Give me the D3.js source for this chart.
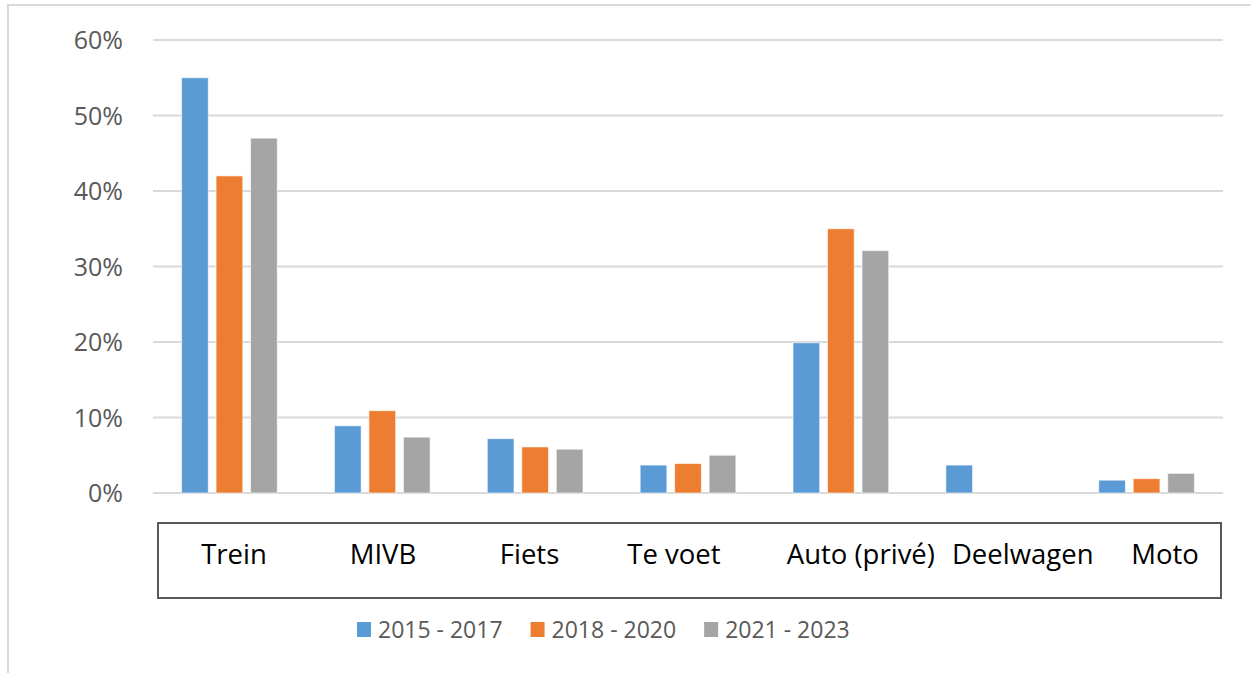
<!DOCTYPE html>
<html>
<head>
<meta charset="utf-8">
<script src="https://cdn.jsdelivr.net/npm/d3@7"></script>
<style>
  html, body { margin: 0; padding: 0; background: #fff; }
  svg { display: block; }
</style>
</head>
<body>
<svg id="chart" width="1251" height="673"></svg>
<script>
// ---- data ----
const categories = ["Trein", "MIVB", "Fiets", "Te voet", "Auto (privé)", "Deelwagen", "Moto"];
const seriesNames = ["2015 - 2017", "2018 - 2020", "2021 - 2023"];
const s2015 = [0.55, 0.089, 0.072, 0.037, 0.199, 0.037, 0.017];
const s2018 = [0.42, 0.109, 0.061, 0.039, 0.35, 0, 0.019];
const s2021 = [0.47, 0.074, 0.058, 0.050, 0.321, 0, 0.026];
const yTicks = [0, 0.1, 0.2, 0.3, 0.4, 0.5, 0.6];

// ---- layout (not data) ----
const colors = ["#5B9BD5", "#ED7D31", "#A5A5A5"];
const labelNudge = [4.6, 0.7, -5.6, -14, 20, 29, 18.4]; // label offsets in the category box
const plot = { left: 153, right: 1223, top: 40, bottom: 493 };

const svg = d3.select("#chart");
const seriesValues = [s2015, s2018, s2021];

// outer frame
svg.append("path")
  .attr("d", "M8,673 V5 H1251")
  .attr("fill", "none").attr("stroke", "#D9D9D9").attr("stroke-width", 2);

const y = d3.scaleLinear().domain([0, 0.6]).range([plot.bottom, plot.top]);
const x0 = d3.scaleBand().domain(categories).range([plot.left, plot.right])
  .paddingInner(0.323).paddingOuter(0.1615);
const x1 = d3.scaleBand().domain(seriesNames).range([0, x0.bandwidth()])
  .paddingInner(0.226).paddingOuter(0.113);

// gridlines
svg.append("g").selectAll("line").data(yTicks).join("line")
  .attr("x1", plot.left).attr("x2", plot.right)
  .attr("y1", d => y(d)).attr("y2", d => y(d))
  .attr("stroke", "#D9D9D9").attr("stroke-width", 2);

// y axis labels
const yAxis = d3.axisLeft(y).tickValues(yTicks).tickFormat(d3.format(".0%")).tickSize(0).tickPadding(0);
const gy = svg.append("g").attr("transform", "translate(123,0)").call(yAxis);
gy.select(".domain").remove();
gy.selectAll("text")
  .attr("font-family", "'Open Sans', sans-serif")
  .attr("font-size", 25)
  .attr("fill", "#595959")
  .attr("dy", "0.35em");

// bars
const groups = svg.append("g").selectAll("g").data(categories).join("g")
  .attr("transform", d => `translate(${x0(d)},0)`);
groups.selectAll("rect")
  .data((c, i) => seriesNames.map((s, j) => ({ s, j, v: seriesValues[j][i] })))
  .join("rect")
  .attr("x", d => x1(d.s))
  .attr("width", x1.bandwidth())
  .attr("y", d => y(d.v))
  .attr("height", d => y(0) - y(d.v))
  .attr("fill", d => colors[d.j])
  .attr("stroke", d => d.v > 0 ? "#ffffff" : "none")
  .attr("stroke-opacity", 0.6)
  .attr("stroke-width", 1);

// category box
svg.append("rect")
  .attr("x", 158).attr("y", 523).attr("width", 1063).attr("height", 75)
  .attr("fill", "none").attr("stroke", "#595959").attr("stroke-width", 2);

svg.append("g").selectAll("text").data(categories).join("text")
  .attr("x", (d, i) => x0(d) + x0.bandwidth() / 2 + labelNudge[i])
  .attr("y", 564)
  .attr("text-anchor", "middle")
  .attr("font-family", "'Open Sans', sans-serif")
  .attr("font-size", 27.5)
  .attr("fill", "#000")
  .text(d => d);

// legend
const legend = svg.append("g");
let lx = 357;
seriesNames.forEach((name, i) => {
  legend.append("rect")
    .attr("x", lx).attr("y", 622).attr("width", 14).attr("height", 15)
    .attr("fill", colors[i]);
  const t = legend.append("text")
    .attr("x", lx + 21).attr("y", 638)
    .attr("font-family", "'Open Sans', sans-serif")
    .attr("font-size", 23)
    .attr("fill", "#595959")
    .text(name);
  lx += 21 + t.node().getComputedTextLength() + 28;
});
</script>
</body>
</html>
